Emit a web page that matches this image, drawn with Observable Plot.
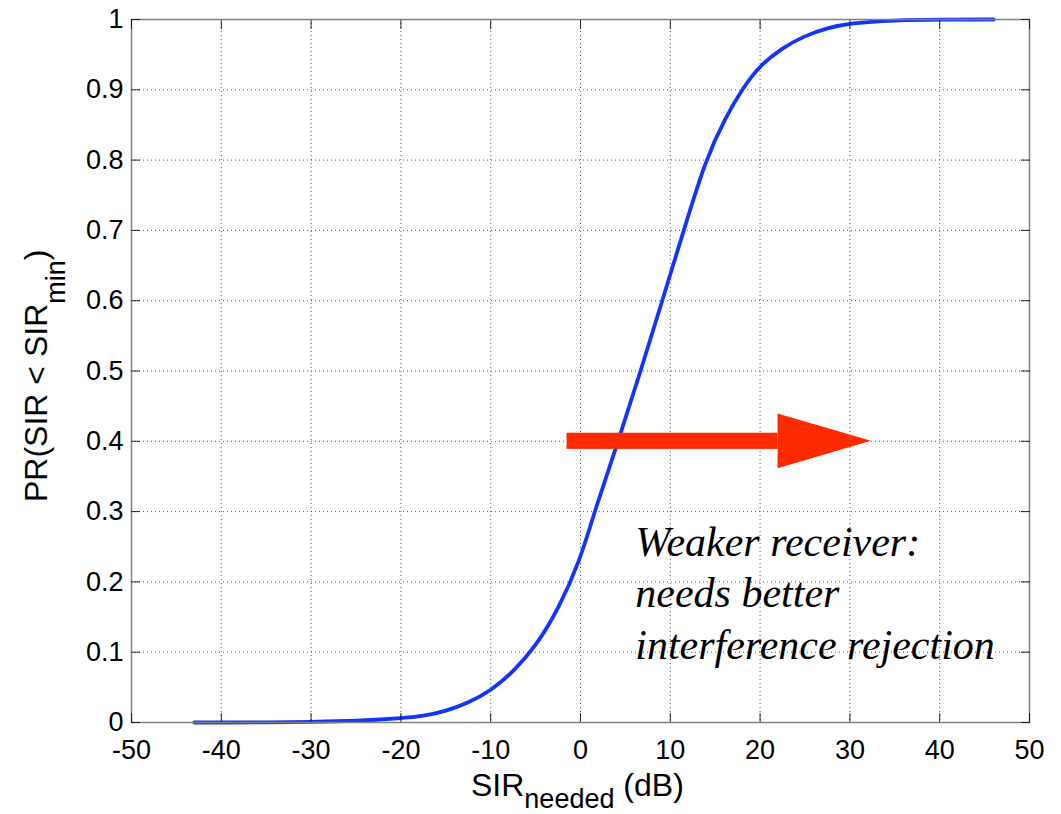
<!DOCTYPE html>
<html>
<head>
<meta charset="utf-8">
<script src="https://cdn.jsdelivr.net/npm/d3@7"></script>
<script src="https://cdn.jsdelivr.net/npm/@observablehq/plot@0.6"></script>
<style>
  html, body { margin: 0; padding: 0; background: #ffffff; }
  #chart { width: 1061px; height: 814px; }
</style>
</head>
<body>
<div id="chart"></div>
<script>
// ---- data ----
const sirNeeded   = [-43, -40, -35, -30, -25, -20, -17.5, -15, -12.5, -10, -7.5, -5, -2.5, 0, 1.5, 4.2, 6.7, 9.1, 11.5, 13.9, 16.2, 18.1, 20, 22.5, 25, 27.5, 30, 35, 40, 46];
const probability = [0, 0, 0, 0.001, 0.002, 0.006, 0.009, 0.016, 0.028, 0.045, 0.072, 0.108, 0.16, 0.232, 0.298, 0.40, 0.50, 0.60, 0.70, 0.80, 0.862, 0.903, 0.935, 0.96, 0.977, 0.988, 0.995, 0.999, 1, 1];

const xTicks = [-50, -40, -30, -20, -10, 0, 10, 20, 30, 40, 50];
const yTicks = [0, 0.1, 0.2, 0.3, 0.4, 0.5, 0.6, 0.7, 0.8, 0.9, 1];

// arrow annotation (data units)
const arrowY = 0.4;
const arrowStart = -1.5;
const arrowHeadBase = 22;
const arrowTip = 32.4;
const arrowShaftHalf = 0.0115;
const arrowHeadHalf = 0.039;

// note text
const noteLines = ["Weaker receiver:", "needs better", "interference rejection"];
const noteX = 6.1;
const noteY = [0.2375, 0.164, 0.091];

// ---- build ----
const curve = sirNeeded.map((x, i) => ({x, y: probability[i]}));
const shaft = [{x1: arrowStart, x2: arrowHeadBase, y1: arrowY - arrowShaftHalf, y2: arrowY + arrowShaftHalf}];
const head = [
  {x: arrowHeadBase, y1: arrowY - arrowHeadHalf, y2: arrowY + arrowHeadHalf},
  {x: arrowTip, y1: arrowY, y2: arrowY}
];
const notes = noteLines.map((t, i) => ({t, x: noteX, y: noteY[i]}));
const fmtY = d => String(+d.toFixed(1));
const fmtX = d => String(d);

const plot = Plot.plot({
  width: 1061,
  height: 814,
  marginLeft: 131,
  marginRight: 32,
  marginTop: 19,
  marginBottom: 92,
  style: {fontFamily: "'Liberation Sans', Arial, sans-serif", background: "#ffffff", color: "#000"},
  x: {domain: [-50, 50], label: null},
  y: {domain: [0, 1], label: null},
  marks: [
    Plot.gridX(xTicks, {stroke: "#444", strokeOpacity: 0.9, strokeDasharray: "1,3", strokeWidth: 1}),
    Plot.gridY(yTicks, {stroke: "#444", strokeOpacity: 0.9, strokeDasharray: "1,3", strokeWidth: 1}),
    Plot.line(curve, {x: "x", y: "y", stroke: "#1234ff", strokeWidth: 3.8, curve: "basis"}),
    Plot.rect(shaft, {x1: "x1", x2: "x2", y1: "y1", y2: "y2", fill: "#ff2a00"}),
    Plot.area(head, {x1: "x", y1: "y1", y2: "y2", fill: "#ff2a00", curve: "linear"}),
    Plot.text(notes, {x: "x", y: "y", text: "t", textAnchor: "start", lineAnchor: "bottom",
      fontFamily: "'Liberation Serif', 'Times New Roman', serif", fontStyle: "italic", fontSize: 42, fill: "#000"}),
    Plot.frame({stroke: "#808080", strokeWidth: 1.5}),
    Plot.axisX(xTicks, {anchor: "bottom", tickSize: -9, tickPadding: 26, fontSize: 27, tickFormat: fmtX, label: null, stroke: "#222"}),
    Plot.axisX(xTicks, {anchor: "top", tickSize: -9, tickFormat: () => "", label: null, stroke: "#222"}),
    Plot.axisY(yTicks, {anchor: "left", tickSize: -9, tickPadding: 17, fontSize: 27, tickFormat: fmtY, label: null, stroke: "#222"}),
    Plot.axisY(yTicks, {anchor: "right", tickSize: -9, tickFormat: () => "", label: null, stroke: "#222"})
  ]
});

document.getElementById("chart").appendChild(plot);

// axis titles with subscripts
const svg = d3.select(plot);
const xl = svg.append("text")
  .attr("x", 471).attr("y", 796)
  .attr("text-anchor", "start")
  .attr("font-family", "'Liberation Sans', Arial, sans-serif")
  .attr("font-size", 32).attr("fill", "#000");
xl.append("tspan").text("SIR");
xl.append("tspan").attr("dy", 12).attr("font-size", 27).text("needed");
xl.append("tspan").attr("dy", -12).text(" (dB)");

const yl = svg.append("text")
  .attr("transform", "translate(47,502) rotate(-90)")
  .attr("text-anchor", "start")
  .attr("font-family", "'Liberation Sans', Arial, sans-serif")
  .attr("font-size", 32).attr("fill", "#000");
yl.append("tspan").text("PR(SIR < SIR");
yl.append("tspan").attr("dy", 18).attr("font-size", 27).text("min");
yl.append("tspan").attr("dy", -18).text(")");
</script>
</body>
</html>
